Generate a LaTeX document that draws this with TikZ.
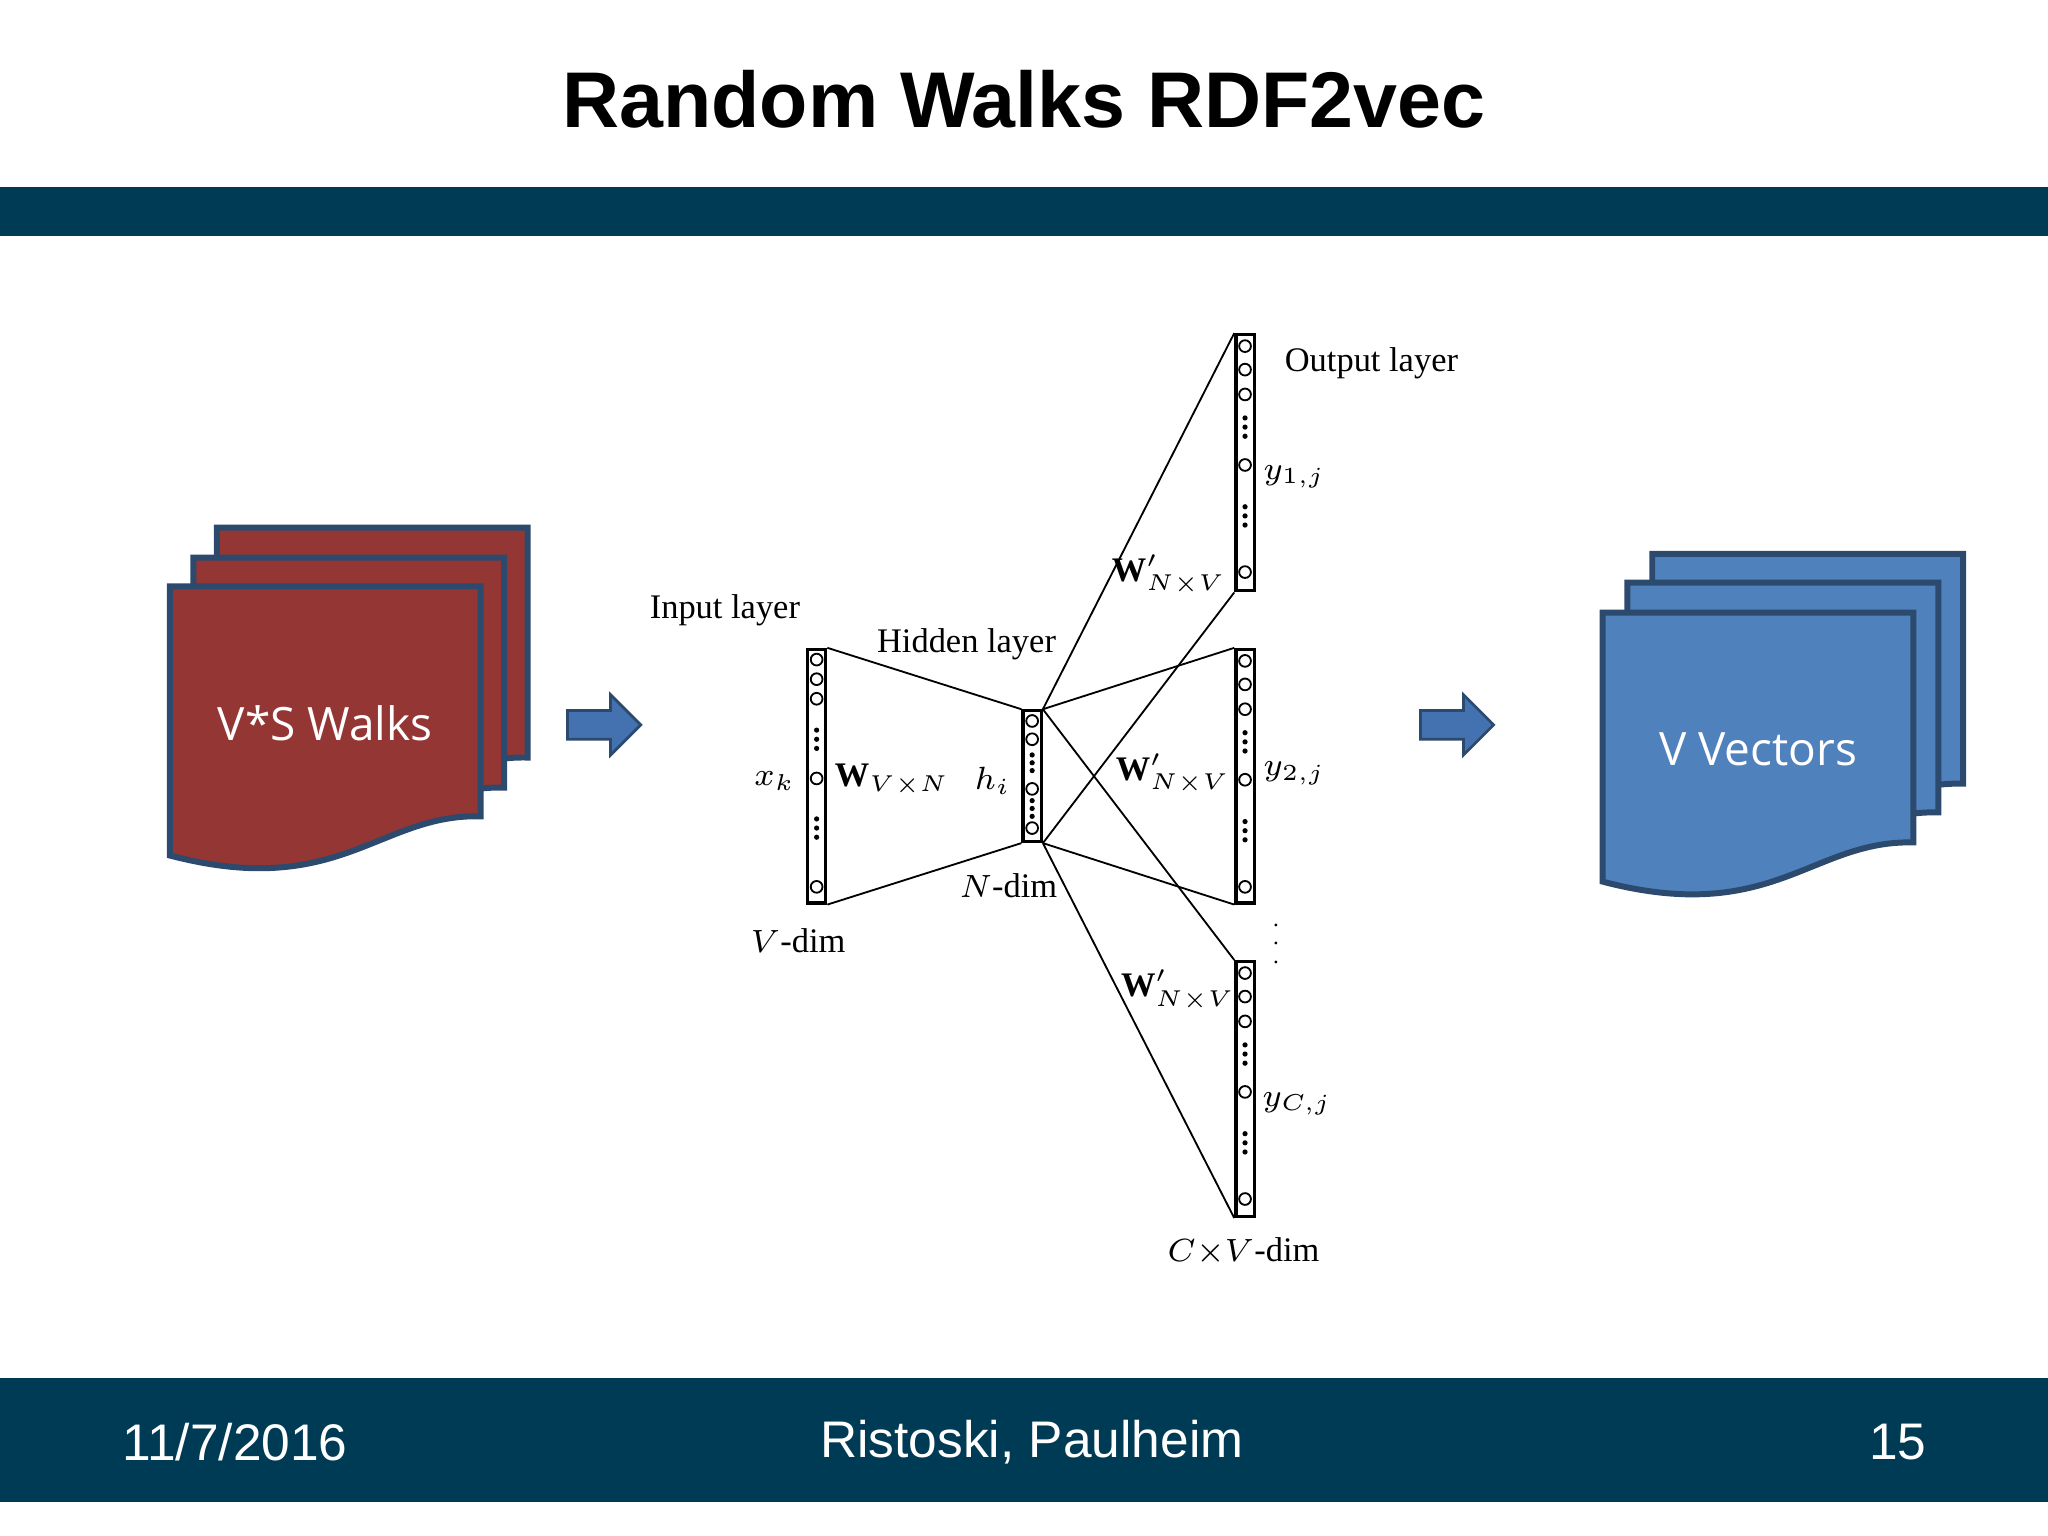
\documentclass[tikz,border=0pt]{standalone}
\usepackage{fontspec}
\setmainfont{Liberation Serif}
\newfontfamily\slidefont{Liberation Sans}
\newfontfamily\docfont{Open Sans}
\usetikzlibrary{positioning, shapes.arrows}
\definecolor{slidebar}{RGB}{0, 59, 85}
\definecolor{walkred}{RGB}{148, 54, 52}
\definecolor{vecblue}{RGB}{79, 129, 189}
\definecolor{pageedge}{RGB}{44, 74, 110}
\definecolor{arrowblue}{RGB}{68, 114, 176}

% one page of a document stack, #1 = top left corner, #2 = fill
\newcommand\docpage[2]{%
    \draw[docpage, fill=#2, shift={#1}] (0,0) -- (238,0) -- (238,176)
        .. controls (160,174) and (130,240) .. (0,206) -- cycle;
}
% circles and dots of one layer column
\newcommand\nnunits[3]{%
    \foreach \o in {#2} \draw[thin] (#1.north) ++(0,\o) circle[radius=0.045cm];
    \foreach \o in {#3} \fill (#1.north) ++(0,\o) circle[radius=0.02cm];
}

\begin{document}
\begin{tikzpicture}[
    x=0.01cm, y=-0.01cm,
    title/.style={
        font=\slidefont\bfseries\fontsize{17.2}{20}\selectfont
    },
    footer/.style={
        font=\slidefont\fontsize{11.2}{13}\selectfont,
        text=white
    },
    docpage/.style={
        draw=pageedge,
        line width=1.3pt
    },
    doclabel/.style={
        font=\docfont\fontsize{10}{12}\selectfont,
        text=white
    },
    colbox/.style={
        rectangle,
        draw,
        line width=0.7pt,
        inner sep=0pt,
        minimum width=0.14cm,
        anchor=north west
    },
    nnlabel/.style={
        font=\fontsize{7.5}{9}\selectfont
    },
    blockarrow/.style={
        single arrow,
        draw=pageedge,
        fill=arrowblue,
        line width=0.6pt,
        inner sep=0.1cm,
        single arrow head extend=0.12cm,
        minimum height=0.56cm
    }
]

\useasboundingbox (0,0) rectangle (1568,1176);

% Slide frame
\fill[slidebar] (0,143) rectangle (1568,181);
\fill[slidebar] (0,1055) rectangle (1568,1150);
\node[title] (head) at (784,76) {Random Walks RDF2vec};
\node[footer] (date) at (180,1104) {11/7/2016};
\node[footer] (authors) at (790,1104) {Ristoski, Paulheim};
\node[footer] (pageno) at (1453,1104) {15};

% Document stacks
\docpage{(166,404)}{walkred}
\docpage{(148,427)}{walkred}
\docpage{(130,449)}{walkred}
\node[doclabel] (walks) at (249,554) {V*S Walks};

\docpage{(1265,424)}{vecblue}
\docpage{(1246,446)}{vecblue}
\docpage{(1227,469)}{vecblue}
\node[doclabel] (vectors) at (1346,574) {V Vectors};

\node[blockarrow] (arrowin) at (457,555) {};
\node[blockarrow] (arrowout) at (1110,555) {};

% Network columns
\node[colbox, minimum height=1.94cm] (in) at (617,496) {};
\node[colbox, minimum height=1.00cm] (hid) at (782,543) {};
\node[colbox, minimum height=1.96cm] (out1) at (945,255) {};
\node[colbox, minimum height=1.94cm] (out2) at (945,496) {};
\node[colbox, minimum height=1.95cm] (out3) at (945,735) {};

\nnunits{in}{9,24,39,100,183}{63,70,77,131,138,145}
\nnunits{hid}{9,23,61,91}{35,41,47,70,76,82}
\foreach \c in {out1,out2,out3} {
    \nnunits{\c}{10,28,47,101,183}{65,72,79,133,140,147}
}

% Connections
\draw (in.north east) -- (hid.north west);
\draw (in.south east) -- (hid.south west);
\foreach \c in {out1,out2,out3} {
    \draw (hid.north east) -- (\c.north west);
    \draw (hid.south east) -- (\c.south west);
}

% Network labels
\node[nnlabel] (inlab) at (555,467) {Input layer};
\node[nnlabel] (hidlab) at (740,493) {Hidden layer};
\node[nnlabel] (outlab) at (1050,278) {Output layer};
\node[nnlabel] (xk) at (593,598) {$x_k$};
\node[nnlabel] (win) at (683,597) {$\mathbf{W}_{V\times N}$};
\node[nnlabel] (hi) at (760,598) {$h_i$};
\node[nnlabel] (ndim) at (772,678) {$N$-dim};
\node[nnlabel] (vdim) at (611,720) {$V$-dim};
\node[nnlabel] (w1) at (895,440) {$\mathbf{W}'_{N\times V}$};
\node[nnlabel] (w2) at (898,592) {$\mathbf{W}'_{N\times V}$};
\node[nnlabel] (w3) at (902,758) {$\mathbf{W}'_{N\times V}$};
\node[nnlabel] (y1) at (991,365) {$y_{1,j}$};
\node[nnlabel] (y2) at (991,592) {$y_{2,j}$};
\node[nnlabel] (y3) at (993,845) {$y_{C,j}$};
\node[font=\fontsize{5}{6}\selectfont, inner sep=0pt] (vdots) at (977,712) {$\vdots$};
\node[nnlabel] (cvdim) at (952,958) {$C{\times}V$-dim};

\end{tikzpicture}
\end{document}
